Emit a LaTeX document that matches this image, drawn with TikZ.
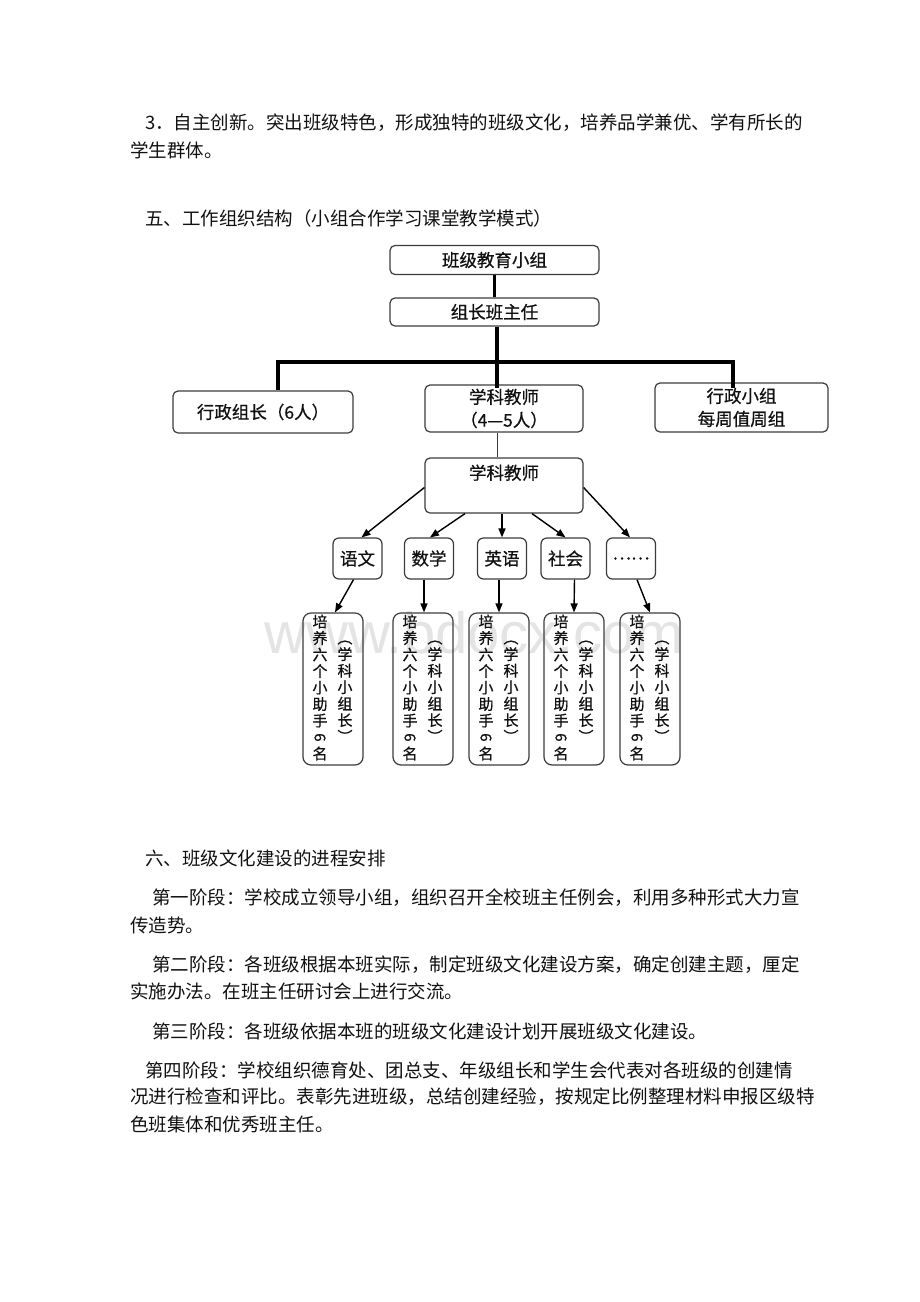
\documentclass[tikz,border=0pt]{standalone}
\usepackage{fontspec}
\usepackage{graphicx}
\newfontfamily\cjk{Noto Sans CJK SC}
\newfontfamily\cjkc{Noto Sans CJK SC}[FakeBold=0.6]
\newfontfamily\wmfont{Liberation Sans}
\usetikzlibrary{arrows.meta}
\definecolor{boxgray}{HTML}{3C3C3C}
\definecolor{wmgray}{HTML}{E4E4E4}
\definecolor{txt}{HTML}{111111}
\newcommand\VColA{培\\养\\六\\个\\小\\助\\手\\\rotatebox[origin=c]{-90}{6}\\名}
\newcommand\VColB{︵\\学\\科\\小\\组\\长\\︶}
\begin{document}
\begin{tikzpicture}[x=1pt,y=-1pt,
  body/.style={anchor=west, inner sep=0pt, text=txt, font=\cjk\fontsize{18.5}{20}\selectfont},
  box/.style={draw=boxgray, line width=1.2pt, rounded corners=5pt, inner sep=0pt, align=center, text=txt, font=\cjkc\fontsize{17.5}{23}\selectfont},
  sbox/.style={box, minimum width=49pt, minimum height=41pt, rounded corners=6pt},
  vbox/.style={box, minimum width=60pt, minimum height=152pt, rounded corners=8pt},
  vcol/.style={anchor=north, inner sep=0pt, align=center, text=txt, font=\cjkc\fontsize{15}{16.5}\selectfont},
  thickline/.style={line width=3.6pt, black},
  thinline/.style={line width=1pt, boxgray},
  arr/.style={-{Triangle[length=9pt,width=7pt]}, line width=1.4pt, black}]
\useasboundingbox (0,0) rectangle (920,1302);
\fill[white] (0,0) rectangle (920,1302);

% ---- text above ----
\node[body] (p1) at (145,123) {3．自主创新。突出班级特色，形成独特的班级文化，培养品学兼优、学有所长的};
\node[body] (p2) at (130,150) {学生群体。};
\node[body] (h5) at (145,218) {五、工作组织结构（小组合作学习课堂教学模式）};

% ---- watermark ----
\node[anchor=base, inner sep=0pt, text=wmgray, font=\wmfont\fontsize{58}{60}\selectfont] (wm) at (474,653) {www.bdocx.com};

% ---- org chart ----
\node[box, minimum width=209pt, minimum height=29pt] (b1) at (494.5,260) {班级教育小组};
\node[box, minimum width=209pt, minimum height=28pt] (b2) at (494.5,312) {组长班主任};
\node[box, minimum width=180pt, minimum height=42pt] (lft) at (263,412) {行政组长（6人）};
\node[box, minimum width=158pt, minimum height=47pt] (mid) at (504,408.5) {学科教师\\（4—5人）};
\node[box, minimum width=173pt, minimum height=49pt] (rgt) at (741.5,407.5) {行政小组\\每周值周组};
\node[box, minimum width=158pt, minimum height=55pt] (teach) at (504,485.5) {};
\node[anchor=north, inner sep=0pt, yshift=-7pt, text=txt, font=\cjkc\fontsize{17.5}{23}\selectfont] (teachT) at (teach.north) {学科教师};

\coordinate (jL) at (278,362);
\coordinate (jM) at (497,362);
\coordinate (jR) at (733,362);
\draw[thickline] (b1.south) -- (b2.north);
\draw[thickline] (b2.south -| jM) -- ([yshift=-4pt]jM |- mid.north);
\draw[thickline, line cap=rect] (jL) -- (jR);
\draw[thickline] (jL) -- (jL |- lft.north);
\draw[thickline] (jR) -- ([yshift=-6pt]jR |- rgt.north);
\draw[thinline] (mid.south -| jM) -- (teach.north -| jM);

% subjects
\node[sbox] (yw) at (357.5,558.5) {语文};
\node[sbox] (sx) at (429,558.5) {数学};
\node[sbox] (yy) at (502,558.5) {英语};
\node[sbox] (sh) at (565.5,558.5) {社会};
\node[sbox] (dt) at (631,558.5) {……};

\draw[arr] ([yshift=-2pt]teach.west) -- ([xshift=4pt]yw.north);
\draw[arr] ([xshift=-39pt]teach.south) -- ([xshift=1pt]sx.north);
\draw[arr] ([xshift=-2pt]teach.south) -- (yy.north);
\draw[arr] ([xshift=28pt]teach.south) -- (sh.north);
\draw[arr] ([yshift=-2pt]teach.east) -- ([xshift=-1pt]dt.north);

% vertical boxes
\node[vbox] (v1) at (333,689) {};
\node[vbox] (v2) at (423,689) {};
\node[vbox] (v3) at (499,689) {};
\node[vbox] (v4) at (574,689) {};
\node[vbox] (v5) at (650,689) {};
\foreach \v in {v1,v2,v3,v4,v5}{
  \node[vcol] at ([xshift=-13pt,yshift=-2pt]\v.north) {\VColA};
  \node[vcol] at ([xshift=12pt,yshift=-28pt]\v.north) {\VColB};
}
\draw[arr] ([xshift=-4pt]yw.south) -- ([xshift=2pt]v1.north);
\draw[arr] ([xshift=-5pt]sx.south) -- ([xshift=1pt]v2.north);
\draw[arr] ([xshift=-3pt]yy.south) -- (v3.north);
\draw[arr] ([xshift=9pt]sh.south) -- (v4.north);
\draw[arr] ([xshift=6pt]dt.south) -- (v5.north);

% ---- text below ----
\node[body] (h6) at (145,858) {六、班级文化建设的进程安排};
\node[body] (s1a) at (152,898) {第一阶段：学校成立领导小组，组织召开全校班主任例会，利用多种形式大力宣};
\node[body] (s1b) at (130,925) {传造势。};
\node[body] (s2a) at (152,965) {第二阶段：各班级根据本班实际，制定班级文化建设方案，确定创建主题，厘定};
\node[body] (s2b) at (130,991) {实施办法。在班主任研讨会上进行交流。};
\node[body] (s3) at (152,1031) {第三阶段：各班级依据本班的班级文化建设计划开展班级文化建设。};
\node[body] (s4a) at (145,1070) {第四阶段：学校组织德育处、团总支、年级组长和学生会代表对各班级的创建情};
\node[body] (s4b) at (130,1097) {况进行检查和评比。表彰先进班级，总结创建经验，按规定比例整理材料申报区级特};
\node[body] (s4c) at (130,1124) {色班集体和优秀班主任。};
\end{tikzpicture}
\end{document}
